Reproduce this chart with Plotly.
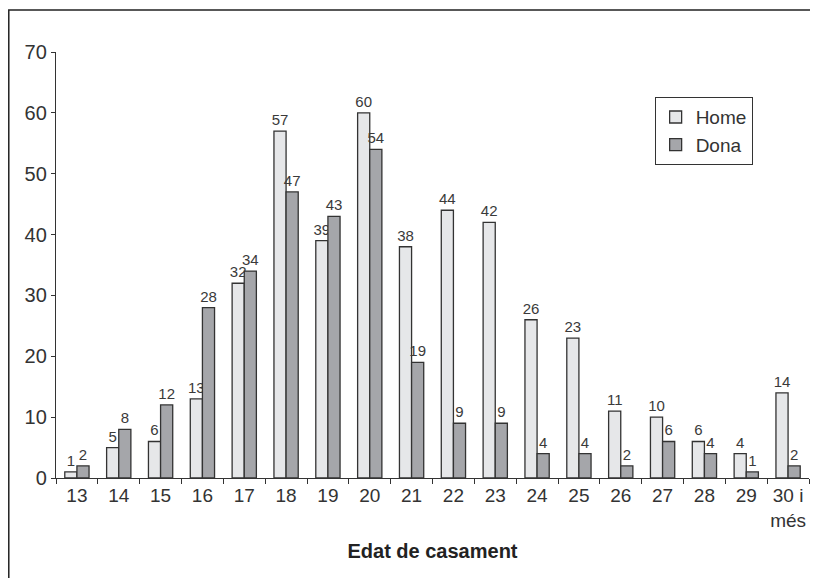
import plotly.graph_objects as go

edats = ["13", "14", "15", "16", "17", "18", "19", "20", "21", "22", "23",
         "24", "25", "26", "27", "28", "29", "30 i<br>més"]
home = [1, 5, 6, 13, 32, 57, 39, 60, 38, 44, 42, 26, 23, 11, 10, 6, 4, 14]
dona = [2, 8, 12, 28, 34, 47, 43, 54, 19, 9, 9, 4, 4, 2, 6, 4, 1, 2]

fnt = "Liberation Sans, Arial, Helvetica, sans-serif"

fig = go.Figure()
fig.add_trace(go.Bar(x=edats, y=home, name="Home", text=home, textposition="outside",
                     constraintext="none",
                     marker=dict(color="#e6e7e9", line=dict(color="#333333", width=1.3)),
                     textfont=dict(size=15, color="#3a3a3a", family=fnt), cliponaxis=False))
fig.add_trace(go.Bar(x=edats, y=dona, name="Dona", text=dona, textposition="outside",
                     constraintext="none",
                     marker=dict(color="#a5a6aa", line=dict(color="#333333", width=1.3)),
                     textfont=dict(size=15, color="#3a3a3a", family=fnt), cliponaxis=False))

# page has an 8px body margin, so the figure is 810x570
fig.update_layout(
    width=810, height=570,
    margin=dict(l=48, r=9, t=44, b=100),
    paper_bgcolor="white", plot_bgcolor="white",
    barmode="group", bargap=0.42, bargroupgap=0,
    font=dict(family=fnt, color="#333333"),
    legend=dict(x=0.795, y=0.894, xanchor="left", yanchor="top",
                bordercolor="#333333", borderwidth=1, bgcolor="white",
                font=dict(size=19, color="#333333"), itemwidth=30,
                tracegroupgap=0),
    xaxis=dict(type="category", tickson="boundaries", ticks="outside", ticklen=5,
               tickcolor="#333333", showline=True, linecolor="#333333", linewidth=1.3,
               tickfont=dict(size=19, color="#333333"), tickangle=0, showgrid=False,
               title=dict(text="<b>Edat de casament</b>", standoff=14,
                          font=dict(size=20, color="#222222"))),
    yaxis=dict(range=[0, 70], dtick=10, ticks="outside", ticklen=4,
               tickcolor="#333333", showline=True, linecolor="#333333", linewidth=1.3,
               tickfont=dict(size=20, color="#333333"), showgrid=False, zeroline=False),
    shapes=[dict(type="rect", xref="paper", yref="paper", x0=-0.0627, x1=1.05,
                 y0=-0.4, y1=1.0986, line=dict(color="#222222", width=1.5))],
)

fig.write_html("out.html")
